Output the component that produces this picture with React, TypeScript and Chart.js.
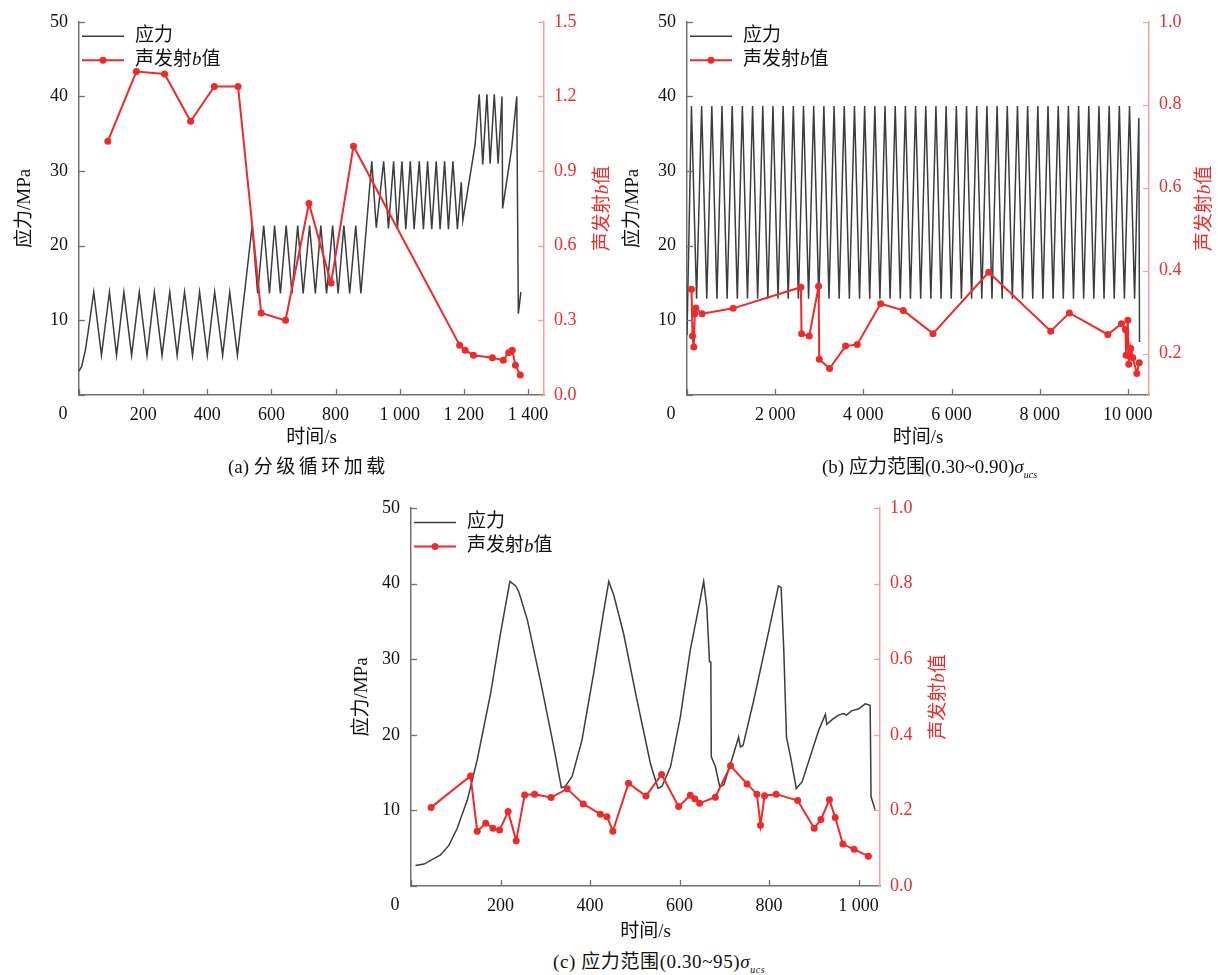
import React, { useEffect, useRef } from 'react';
import { Chart, registerables } from 'chart.js';

Chart.register(...registerables);

// ---------------- data ----------------
// (a) 分级循环加载
const aStressT = [0, 8, 20, 32, 46, 70, 95, 117, 140, 164, 188, 212, 235, 259, 283, 306, 329, 354, 376, 400, 423, 448, 470, 494, 540, 557, 576, 594, 610, 628, 646, 664, 682, 699, 719, 737, 754, 772, 791, 808, 826, 844, 863, 879, 913, 927, 950, 965, 981, 993, 1007, 1019, 1033, 1045, 1061, 1074, 1087, 1100, 1114, 1126, 1140, 1152, 1166, 1180, 1192, 1197, 1235, 1248, 1259, 1272, 1282, 1295, 1307, 1319, 1321, 1349, 1365, 1370, 1378];
const aStressV = [3.2, 3.8, 6.0, 9.5, 13.8, 5.3, 13.8, 5.3, 13.8, 5.3, 13.8, 5.3, 13.8, 5.3, 13.8, 5.3, 13.8, 5.3, 13.8, 5.3, 13.8, 5.3, 13.8, 5.3, 22.7, 13.6, 22.7, 13.6, 22.7, 13.6, 22.7, 13.6, 22.7, 13.6, 22.7, 13.6, 22.7, 13.6, 22.7, 13.6, 22.7, 13.6, 22.7, 13.6, 31.3, 22.4, 31.3, 22.3, 31.3, 22.2, 31.3, 22.2, 31.3, 22.2, 31.3, 22.2, 31.3, 22.2, 31.3, 22.2, 31.3, 22.2, 31.3, 22.2, 28.5, 23.4, 33.5, 40.3, 30.9, 40.3, 31.0, 40.3, 31.0, 40.0, 25.0, 33.0, 40.0, 10.9, 13.8];
const aBT = [90, 179, 267, 348, 422, 496, 568, 644, 717, 786, 856, 1187, 1204, 1230, 1289, 1323, 1340, 1351, 1361, 1376];
const aBV = [1.02, 1.30, 1.29, 1.10, 1.24, 1.24, 0.33, 0.30, 0.77, 0.45, 1.00, 0.20, 0.18, 0.16, 0.15, 0.14, 0.17, 0.18, 0.12, 0.08];
const aXTicks = [0, 200, 400, 600, 800, 1000, 1200, 1400];
const aRightTicks = [0, 0.3, 0.6, 0.9, 1.2, 1.5];

// (b) 应力范围(0.30~0.90)σucs
const bStressT = [0,
  101, 217, 332, 448, 563, 679, 794, 910, 1025, 1141, 1256, 1372, 1488, 1603, 1719, 1834, 1950, 2065, 2181, 2296, 2412, 2527,
  2643, 2758, 2874, 2990, 3105, 3221, 3336, 3452, 3567, 3683, 3799, 3914, 4030, 4145, 4261, 4376, 4492, 4607, 4723, 4838,
  4954, 5069, 5185, 5301, 5416, 5532, 5647, 5763, 5878, 5994, 6110, 6225, 6341, 6456, 6572, 6687, 6803, 6918, 7034, 7149,
  7265, 7380, 7496, 7612, 7727, 7843, 7958, 8074, 8189, 8305, 8421, 8536, 8652, 8767, 8883, 8998, 9114, 9229, 9345, 9460,
  9576, 9691, 9807, 9922, 10038, 10153,
  10249, 10265];
const bStressV = [8,
  38.7, 12.9, 38.7, 12.9, 38.7, 12.9, 38.7, 12.9, 38.7, 12.9, 38.7, 12.9, 38.7, 12.9, 38.7, 12.9, 38.7, 12.9, 38.7, 12.9, 38.7, 12.9,
  38.7, 12.9, 38.7, 12.9, 38.7, 12.9, 38.7, 12.9, 38.7, 12.9, 38.7, 12.9, 38.7, 12.9, 38.7, 12.9, 38.7, 12.9, 38.7, 12.9,
  38.7, 12.9, 38.7, 12.9, 38.7, 12.9, 38.7, 12.9, 38.7, 12.9, 38.7, 12.9, 38.7, 12.9, 38.7, 12.9, 38.7, 12.9, 38.7, 12.9,
  38.7, 12.9, 38.7, 12.9, 38.7, 12.9, 38.7, 12.9, 38.7, 12.9, 38.7, 12.9, 38.7, 12.9, 38.7, 12.9, 38.7, 12.9, 38.7, 12.9,
  38.7, 12.9, 38.7, 12.9, 38.7, 12.9,
  37.1, 7.1];
const bBT = [102, 125, 154, 177, 200, 343, 1047, 2583, 2599, 2773, 2985, 3000, 3234, 3597, 3862, 4392, 4906, 5580, 6844, 8251, 8675, 9545, 9855, 9946, 9961, 9999, 10022, 10052, 10067, 10113, 10204, 10257];
const bBV = [0.355, 0.242, 0.216, 0.296, 0.31, 0.296, 0.309, 0.36, 0.248, 0.242, 0.362, 0.186, 0.164, 0.218, 0.222, 0.32, 0.304, 0.248, 0.396, 0.254, 0.298, 0.246, 0.272, 0.258, 0.196, 0.28, 0.174, 0.194, 0.212, 0.19, 0.152, 0.178];
const bXTicks = [0, 2000, 4000, 6000, 8000, 10000];
const bRightTicks = [0.2, 0.4, 0.6, 0.8, 1.0];

// (c) 应力范围(0.30~95)σucs
const cStressT = [10, 29, 66, 85, 103, 126, 148, 178, 200, 221, 234, 241, 260, 289, 319, 336, 345, 360, 382, 408, 431, 442, 453, 475, 505, 535, 552, 561, 580, 602, 624, 643, 654, 661, 667, 670, 671, 680, 690, 699, 721, 732, 736, 742, 766, 795, 821, 827, 833, 839, 848, 861, 874, 892, 911, 926, 929, 941, 955, 967, 973, 985, 1000, 1015, 1026, 1028, 1037];
const cStressV = [2.7, 2.9, 4.1, 5.4, 7.6, 11.4, 16.7, 25.5, 33.4, 40.3, 39.7, 38.9, 35.2, 27.2, 18.4, 13.0, 13.2, 14.5, 19.3, 28.1, 36.5, 40.3, 38.5, 33.4, 24.6, 16.2, 12.9, 13.2, 15.8, 22.4, 31.2, 36.9, 40.3, 36.9, 29.7, 29.6, 17.1, 15.8, 13.1, 13.4, 17.5, 19.7, 18.4, 18.6, 24.6, 32.5, 39.7, 39.5, 31.2, 19.7, 17.1, 12.9, 13.8, 17.1, 20.6, 22.7, 21.4, 22.0, 22.6, 22.8, 22.6, 23.2, 23.4, 24.1, 23.9, 11.8, 10.1];
const cBT = [45, 133, 148, 167, 183, 198, 217, 235, 254, 276, 313, 349, 385, 423, 438, 451, 486, 525, 560, 598, 624, 634, 645, 680, 714, 751, 773, 781, 790, 816, 864, 901, 916, 935, 948, 965, 990, 1022];
const cBV = [0.208, 0.291, 0.145, 0.166, 0.153, 0.148, 0.197, 0.12, 0.241, 0.243, 0.234, 0.257, 0.217, 0.19, 0.183, 0.145, 0.272, 0.238, 0.295, 0.21, 0.24, 0.231, 0.219, 0.235, 0.318, 0.27, 0.243, 0.161, 0.239, 0.243, 0.226, 0.153, 0.176, 0.228, 0.181, 0.111, 0.097, 0.079];
const cXTicks = [0, 200, 400, 600, 800, 1000];
const cRightTicks = [0, 0.2, 0.4, 0.6, 0.8, 1.0];

const leftTicks = [0, 10, 20, 30, 40, 50];

const stressLabel = '应力';
const bLabel = '声发射b值';
const xTitle = '时间/s';
const leftTitle = '应力/MPa';

// ---------------- styles ----------------
const FONT = '"Liberation Serif", "Times New Roman", "Noto Sans CJK SC", serif';
const STRESS_COLOR = '#3d3d3d';
const B_COLOR = '#ee2a2a';
const AXIS_COLOR = '#707070';
const RIGHT_AXIS_COLOR = '#f3a0a0';
const TEXT_COLOR = '#111111';

type Panel = {
  box: { left: number; top: number; width: number; height: number };
  area: { left: number; top: number; right: number; bottom: number };
  xMax: number;
  rMin: number;
  rMax: number;
  xTicks: number[];
  rTicks: number[];
  stressT: number[];
  stressV: number[];
  bT: number[];
  bV: number[];
  leftTitlePad: number;
  xTitlePad: number;
  rightTitleInset: number;
};

const panels: Panel[] = [
  {
    box: { left: 0, top: 0, width: 620, height: 450 },
    area: { left: 79, top: 20, right: 544, bottom: 395 },
    xMax: 1450, rMin: 0, rMax: 1.5, xTicks: aXTicks, rTicks: aRightTicks,
    stressT: aStressT, stressV: aStressV, bT: aBT, bV: aBV,
    leftTitlePad: 13.6, xTitlePad: 0.6, rightTitleInset: 17,
  },
  {
    box: { left: 600, top: 0, width: 618, height: 450 },
    area: { left: 687, top: 20, right: 1149, bottom: 395 },
    xMax: 10480, rMin: 0.1, rMax: 1.0, xTicks: bXTicks, rTicks: bRightTicks,
    stressT: bStressT, stressV: bStressV, bT: bBT, bV: bBV,
    leftTitlePad: 21.6, xTitlePad: 0.6, rightTitleInset: 13,
  },
  {
    box: { left: 330, top: 470, width: 640, height: 475 },
    area: { left: 411, top: 508, right: 880, bottom: 886 },
    xMax: 1048, rMin: 0, rMax: 1.0, xTicks: cXTicks, rTicks: cRightTicks,
    stressT: cStressT, stressV: cStressV, bT: cBT, bV: cBV,
    leftTitlePad: 20.6, xTitlePad: 1.6, rightTitleInset: 31,
  },
];

function fmtThousands(v: number): string {
  if (Math.abs(v) >= 1000) {
    const th = Math.floor(v / 1000);
    const rest = String(Math.round(v % 1000)).padStart(3, '0');
    return `${th} ${rest}`;
  }
  return String(v);
}

function bTextWidth(ctx: CanvasRenderingContext2D, size: number) {
  const normal = `${size}px ${FONT}`;
  const italic = `italic ${size}px ${FONT}`;
  ctx.font = normal;
  let w = ctx.measureText('声发射').width + ctx.measureText('值').width;
  ctx.font = italic;
  w += ctx.measureText('b').width;
  return w;
}

function drawBText(ctx: CanvasRenderingContext2D, x: number, y: number, size: number, color: string) {
  const normal = `${size}px ${FONT}`;
  const italic = `italic ${size}px ${FONT}`;
  const parts: [string, string][] = [['声发射', normal], ['b', italic], ['值', normal]];
  ctx.fillStyle = color;
  ctx.textAlign = 'left';
  ctx.textBaseline = 'middle';
  let cx = x;
  for (const [t, f] of parts) {
    ctx.font = f;
    ctx.fillText(t, cx, y);
    cx += ctx.measureText(t).width;
  }
}

function makeDecor(p: Panel) {
  return {
    id: 'decor',
    afterDraw(chart: any) {
      const ctx: CanvasRenderingContext2D = chart.ctx;
      const { left, right, top, bottom } = chart.chartArea;
      const xs = chart.scales.x;
      const ys = chart.scales.y;
      const rs = chart.scales.y1;
      ctx.save();
      // inward ticks
      ctx.lineWidth = 1.3;
      ctx.strokeStyle = AXIS_COLOR;
      xs.ticks.forEach((t: any) => {
        const px = Math.round(xs.getPixelForValue(t.value)) + 0.5;
        ctx.beginPath();
        ctx.moveTo(px, bottom);
        ctx.lineTo(px, bottom - 6);
        ctx.stroke();
      });
      ys.ticks.forEach((t: any) => {
        const py = Math.round(ys.getPixelForValue(t.value)) + 0.5;
        ctx.beginPath();
        ctx.moveTo(left, py);
        ctx.lineTo(left + 6, py);
        ctx.stroke();
      });
      ctx.strokeStyle = RIGHT_AXIS_COLOR;
      rs.ticks.forEach((t: any) => {
        const py = Math.round(rs.getPixelForValue(t.value)) + 0.5;
        ctx.beginPath();
        ctx.moveTo(right, py);
        ctx.lineTo(right - 6, py);
        ctx.stroke();
      });
      // corner zero label
      ctx.fillStyle = TEXT_COLOR;
      ctx.font = `18px ${FONT}`;
      ctx.textAlign = 'center';
      ctx.textBaseline = 'middle';
      ctx.fillText('0', left - 16, bottom + 19);
      // legend
      const y1 = top + 14.5;
      const y2 = top + 38.5;
      ctx.lineWidth = 1.6;
      ctx.strokeStyle = STRESS_COLOR;
      ctx.beginPath();
      ctx.moveTo(left + 3, y1);
      ctx.lineTo(left + 45, y1);
      ctx.stroke();
      ctx.lineWidth = 2;
      ctx.strokeStyle = B_COLOR;
      ctx.beginPath();
      ctx.moveTo(left + 3, y2);
      ctx.lineTo(left + 45, y2);
      ctx.stroke();
      ctx.fillStyle = B_COLOR;
      ctx.beginPath();
      ctx.arc(left + 24, y2, 3.5, 0, Math.PI * 2);
      ctx.fill();
      ctx.fillStyle = TEXT_COLOR;
      ctx.font = `19px ${FONT}`;
      ctx.textAlign = 'left';
      ctx.textBaseline = 'middle';
      ctx.fillText(stressLabel, left + 56, y1);
      drawBText(ctx, left + 56, y2, 19, TEXT_COLOR);
      // right axis title, rotated to read bottom-up
      const w = bTextWidth(ctx, 19);
      ctx.translate(chart.width - p.rightTitleInset, (top + bottom) / 2);
      ctx.rotate(-Math.PI / 2);
      drawBText(ctx, -w / 2, 0, 19, B_COLOR);
      ctx.restore();
    },
  };
}

function buildConfig(p: Panel): any {
  const leftW = p.area.left - p.box.left;
  const rightW = p.box.left + p.box.width - p.area.right;
  const topPad = p.area.top - p.box.top;
  const bottomH = p.box.top + p.box.height - p.area.bottom;
  return {
    type: 'line',
    data: {
      datasets: [
        {
          label: stressLabel,
          data: p.stressT.map((t, i) => ({ x: t, y: p.stressV[i] })),
          yAxisID: 'y',
          borderColor: STRESS_COLOR,
          borderWidth: 1.5,
          pointRadius: 0,
          tension: 0,
          order: 2,
        },
        {
          label: bLabel,
          data: p.bT.map((t, i) => ({ x: t, y: p.bV[i] })),
          yAxisID: 'y1',
          borderColor: B_COLOR,
          backgroundColor: B_COLOR,
          borderWidth: 2,
          pointRadius: 3.5,
          pointBackgroundColor: B_COLOR,
          pointBorderWidth: 0,
          tension: 0,
          order: 1,
        },
      ],
    },
    options: {
      animation: false,
      responsive: false,
      devicePixelRatio: 1,
      layout: { padding: { top: topPad, left: 0, right: 0, bottom: 0 } },
      plugins: { legend: { display: false }, tooltip: { enabled: false }, title: { display: false } },
      scales: {
        x: {
          type: 'linear',
          min: 0,
          max: p.xMax,
          afterBuildTicks: (s: any) => { s.ticks = p.xTicks.map((v) => ({ value: v })); },
          afterFit: (s: any) => { s.height = bottomH; },
          grid: { display: false, drawTicks: false },
          border: { display: true, color: AXIS_COLOR, width: 1.5 },
          ticks: {
            padding: 9,
            autoSkip: false,
            maxRotation: 0,
            color: TEXT_COLOR,
            font: { family: FONT, size: 18 },
            callback: (v: number) => (v === 0 ? '' : fmtThousands(v)),
          },
          title: {
            display: true,
            text: xTitle,
            color: TEXT_COLOR,
            font: { family: FONT, size: 19 },
            padding: { top: 0, bottom: p.xTitlePad },
          },
        },
        y: {
          type: 'linear',
          position: 'left',
          min: 0,
          max: 50,
          afterBuildTicks: (s: any) => { s.ticks = leftTicks.map((v) => ({ value: v })); },
          afterFit: (s: any) => { s.width = leftW; },
          grid: { display: false, drawTicks: false },
          border: { display: true, color: AXIS_COLOR, width: 1.5 },
          ticks: {
            padding: 11,
            color: TEXT_COLOR,
            font: { family: FONT, size: 18 },
            callback: (v: number) => (v === 0 ? '' : String(v)),
          },
          title: {
            display: true,
            text: leftTitle,
            color: TEXT_COLOR,
            font: { family: FONT, size: 19 },
            padding: { top: p.leftTitlePad, bottom: 0 },
          },
        },
        y1: {
          type: 'linear',
          position: 'right',
          min: p.rMin,
          max: p.rMax,
          afterBuildTicks: (s: any) => { s.ticks = p.rTicks.map((v) => ({ value: v })); },
          afterFit: (s: any) => { s.width = rightW; },
          grid: { display: false, drawTicks: false },
          border: { display: true, color: RIGHT_AXIS_COLOR, width: 1.5 },
          ticks: {
            padding: 10,
            color: B_COLOR,
            font: { family: FONT, size: 18 },
            callback: (v: number) => v.toFixed(1),
          },
          title: { display: false },
        },
      },
    },
    plugins: [makeDecor(p)],
  };
}

function PanelChart({ p }: { p: Panel }) {
  const ref = useRef<HTMLCanvasElement | null>(null);
  useEffect(() => {
    if (!ref.current) return;
    const chart = new Chart(ref.current, buildConfig(p));
    return () => chart.destroy();
  }, [p]);
  return (
    <div style={{ position: 'absolute', left: p.box.left, top: p.box.top, width: p.box.width, height: p.box.height }}>
      <canvas ref={ref} width={p.box.width} height={p.box.height} style={{ display: 'block' }} />
    </div>
  );
}

const capStyle: React.CSSProperties = {
  position: 'absolute',
  fontFamily: FONT,
  fontSize: 19,
  lineHeight: '22px',
  color: TEXT_COLOR,
  whiteSpace: 'nowrap',
};

function Sigma() {
  return (
    <span>
      <i>σ</i>
      <i style={{ fontSize: 10, position: 'relative', top: 5 }}>ucs</i>
    </span>
  );
}

export default function App() {
  return (
    <div style={{ position: 'absolute', left: 0, top: 0, width: 1218, height: 975, background: '#ffffff', overflow: 'hidden' }}>
      {panels.map((p, i) => (
        <PanelChart key={i} p={p} />
      ))}
      <div style={{ ...capStyle, left: 228, top: 456 }}>
        (a)&nbsp;<span style={{ letterSpacing: 3.5 }}>分级循环加载</span>
      </div>
      <div style={{ ...capStyle, left: 822, top: 456 }}>
        (b) 应力范围(0.30~0.90)<Sigma />
      </div>
      <div style={{ ...capStyle, left: 553, top: 951, letterSpacing: 0.6 }}>
        (c) 应力范围(0.30~95)<Sigma />
      </div>
    </div>
  );
}
